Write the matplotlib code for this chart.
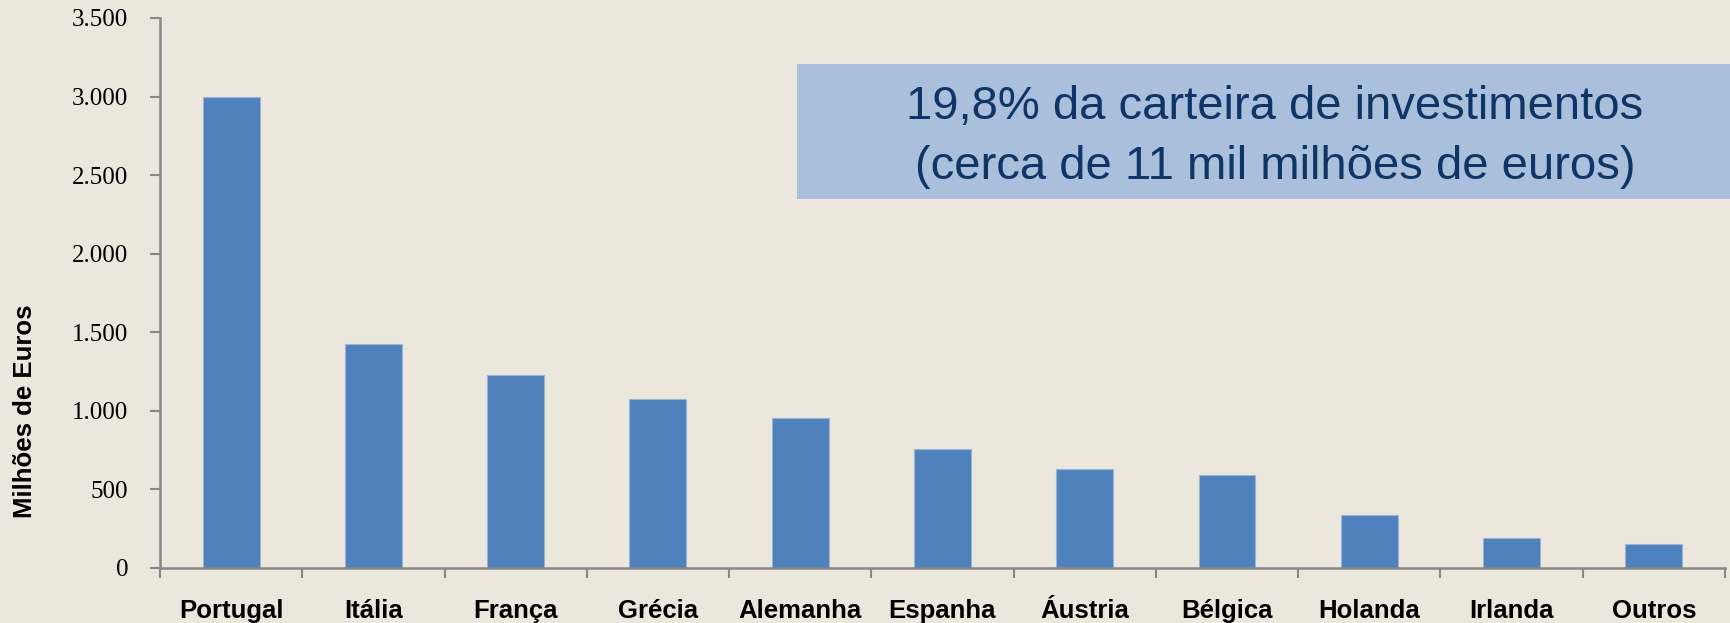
import numpy as np
import matplotlib.pyplot as plt
from matplotlib.patches import Rectangle

# Valores por país (milhões de euros)
paises = ['Portugal', 'Itália', 'França', 'Grécia', 'Alemanha', 'Espanha',
          'Áustria', 'Bélgica', 'Holanda', 'Irlanda', 'Outros']
valores = [2995, 1423, 1227, 1076, 955, 760, 627, 594, 340, 189, 153]
yticks = [0, 500, 1000, 1500, 2000, 2500, 3000, 3500]
ytick_labels = ['0', '500', '1.000', '1.500', '2.000', '2.500', '3.000', '3.500']
caixa_texto = ['19,8% da carteira de investimentos',
               '(cerca de 11 mil milhões de euros)']

fundo = '#EBE7DD'
cinza = '#878787'

W, H = 1731, 623
fig = plt.figure(figsize=(W / 100, H / 100), dpi=100, facecolor=fundo)
ax = fig.add_axes([160 / W, (H - 568) / H, (1725 - 160) / W, (568 - 18) / H])
ax.set_facecolor(fundo)

x = np.arange(len(paises))
ax.bar(x, valores, width=0.4, color='#4F81BD', edgecolor='#9CB4D4', linewidth=0.8)

ax.set_xlim(-0.5, len(paises) - 0.5)
ax.set_ylim(0, 3500)
ax.set_yticks(yticks)
ax.set_yticklabels(ytick_labels, family='Liberation Serif', fontsize=18)
ax.set_xticks(x)
ax.set_xticklabels(paises, family='Liberation Sans', fontsize=18.5, fontweight='bold')
ax.set_xticks(np.arange(-0.5, len(paises)), minor=True)
ax.tick_params(axis='x', which='major', length=0, pad=22)
ax.tick_params(axis='x', which='minor', length=7, width=1.5, color=cinza)
ax.tick_params(axis='y', length=7, width=1.5, color=cinza, pad=16)

for s in ['top', 'right']:
    ax.spines[s].set_visible(False)
for s in ['left', 'bottom']:
    ax.spines[s].set_color(cinza)
    ax.spines[s].set_linewidth(1.8)

fig.text(25 / W, (H - 411) / H, 'Milhões de Euros', rotation=90,
         ha='center', va='center', family='Liberation Sans', fontsize=18.5, fontweight='bold')

# Caixa com texto
fig.patches.append(Rectangle((797 / W, (H - 199) / H), (W - 797) / W, (199 - 64) / H,
                             transform=fig.transFigure, facecolor='#A9BFDB', edgecolor='none'))
fig.text(1275 / W, (H - 107) / H, caixa_texto[0], ha='center', va='center',
         family='Liberation Sans', fontsize=34, color='#0F3566')
fig.text(1275 / W, (H - 167) / H, caixa_texto[1], ha='center', va='center',
         family='Liberation Sans', fontsize=34, color='#0F3566')

fig.savefig('out.png', dpi=100, facecolor=fundo)
